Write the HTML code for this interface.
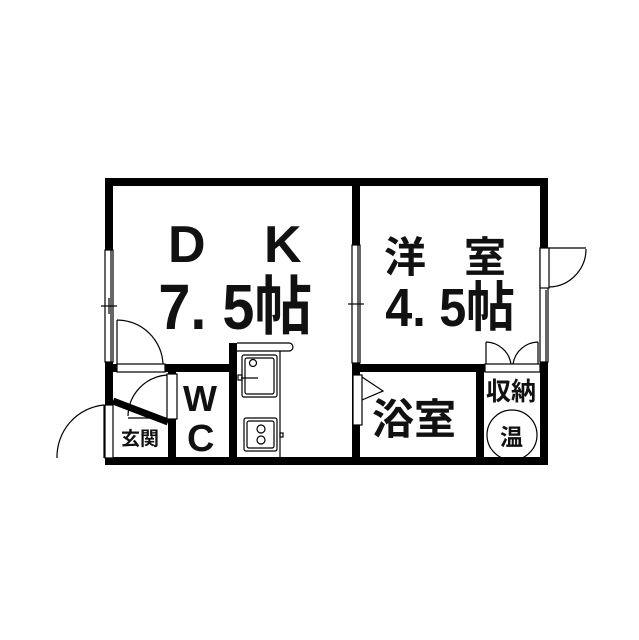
<!DOCTYPE html>
<html><head><meta charset="utf-8"><style>
html,body{margin:0;padding:0;background:#fff;width:639px;height:640px;overflow:hidden}
svg{display:block}
text{font-family:"Liberation Sans","Noto Sans CJK JP",sans-serif;fill:#111;font-weight:bold}
</style></head><body>
<svg width="639" height="640" viewBox="0 0 639 640" xmlns="http://www.w3.org/2000/svg">
<g fill="#000">
<rect x="105" y="178" width="443" height="8"/>
<rect x="105" y="457" width="443" height="8"/>
<rect x="105" y="178" width="8" height="287"/>
<rect x="540" y="178" width="8" height="287"/>
<rect x="352" y="178" width="8" height="287"/>
<rect x="113" y="364" width="124" height="8"/>
<rect x="168" y="372" width="8" height="88"/>
<rect x="229" y="343" width="8" height="118"/>
<rect x="360" y="364" width="188" height="8"/>
<rect x="476" y="364" width="8" height="96"/>
</g>
<line x1="113" y1="401" x2="168" y2="422" stroke="#000" stroke-width="7"/>
<g fill="#fff" stroke="#000" stroke-width="1.2">
<rect x="105" y="250" width="8" height="112"/>
<rect x="352" y="245" width="8" height="118"/>
<rect x="540" y="248" width="8" height="114"/>
<rect x="117" y="364" width="48" height="8"/>
<rect x="167" y="374" width="10" height="45"/>
<rect x="105" y="405" width="8" height="53"/>
<rect x="353" y="375" width="9" height="50"/>
<rect x="485" y="364" width="55" height="8"/>
</g>
<g fill="none" stroke="#000" stroke-width="1.2">
<line x1="101" y1="306" x2="117" y2="306"/><line x1="109" y1="298" x2="109" y2="314"/>
<line x1="348" y1="304" x2="364" y2="304"/>
<line x1="111" y1="250" x2="111" y2="362"/>
<line x1="358" y1="245" x2="358" y2="363"/>
<line x1="546" y1="290" x2="546" y2="362"/>
<line x1="117" y1="320" x2="117" y2="364"/>
<path d="M117 320 A46 46 0 0 1 163 364"/>
<line x1="128" y1="418" x2="167" y2="418"/>
<path d="M167 375 A42 42 0 0 0 128 416"/>
<line x1="104" y1="405" x2="104" y2="458"/>
<path d="M104 405 A52 52 0 0 0 57 458"/>
<rect x="540" y="248" width="9" height="40" fill="#fff"/>
<line x1="549" y1="248" x2="586" y2="248"/>
<path d="M586 249 A38 38 0 0 1 549 287"/>
<path d="M362 377 L383 391 L362 400"/>
<path d="M486 342 A26 26 0 0 1 511 364"/>
<path d="M538 342 A26 26 0 0 0 513 364"/>
<line x1="486" y1="342" x2="486" y2="364"/>
<line x1="538" y1="342" x2="538" y2="364"/>
<circle cx="512" cy="435" r="25"/>
<path d="M237 343 L289 343 A4 4 0 0 1 289 351 L237 351"/>
<line x1="280" y1="351" x2="280" y2="457"/>
<rect x="242" y="355" width="35" height="42" rx="2"/>
<rect x="245" y="358" width="29" height="36" rx="2"/>
<circle cx="253" cy="363" r="3.5"/>
<line x1="241" y1="378" x2="258" y2="378"/>
<rect x="238" y="375" width="4" height="5"/>
<rect x="244" y="418" width="33" height="33" rx="2"/>
<rect x="247" y="421" width="27" height="27" rx="2"/>
<circle cx="261" cy="429" r="4"/><circle cx="261" cy="440" r="4"/>
<rect x="280" y="433" width="3" height="4"/>
</g>
<text x="168" y="262" font-size="52">D</text>
<text x="264" y="262" font-size="52">K</text>
<text x="176" y="329" font-size="64" transform="scale(0.9 1)">7. 5帖</text>
<text x="384" y="272" font-size="42">洋</text>
<text x="464" y="272" font-size="42">室</text>
<text x="428" y="326" font-size="54" transform="scale(0.9 1)">4. 5帖</text>
<text x="372" y="434" font-size="42">浴室</text>
<text x="486" y="400" font-size="25" font-weight="normal">収納</text>
<text x="500" y="445" font-size="23">温</text>
<text x="183" y="411" font-size="36">W</text>
<text x="187" y="451" font-size="38">C</text>
<text x="121" y="445" font-size="19" font-weight="normal">玄関</text>
</svg>
</body></html>
